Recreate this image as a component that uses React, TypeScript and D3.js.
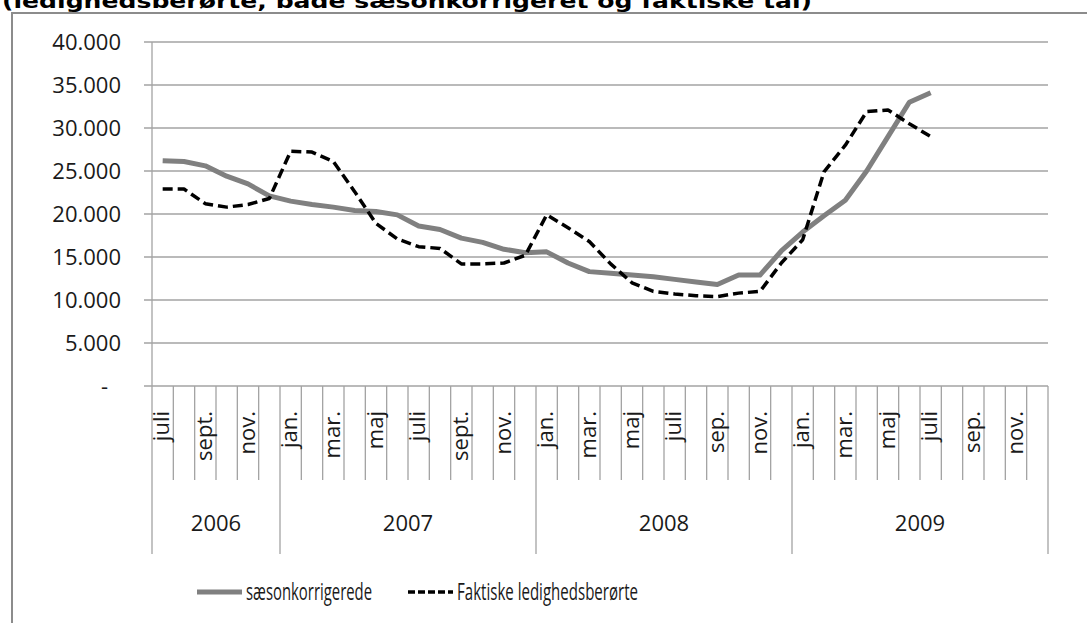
import React from "react";
import * as d3 from "d3";

// months shown on the axis, juli 2006 .. dec. 2009
const months = [
  "juli", "aug.", "sept.", "okt.", "nov.", "dec.",
  "jan.", "feb.", "mar.", "apr.", "maj", "juni", "juli", "aug.", "sept.", "okt.", "nov.", "dec.",
  "jan.", "feb.", "mar.", "apr.", "maj", "juni", "juli", "aug.", "sep.", "okt.", "nov.", "dec.",
  "jan.", "feb.", "mar.", "apr.", "maj", "juni", "juli", "aug.", "sep.", "okt.", "nov.", "dec.",
];
const years = ["2006", "2007", "2008", "2009"];
const monthsPerYear = [6, 12, 12, 12];

// sæsonkorrigerede, juli 2006 .. juli 2009
const saesonkorrigerede = [
  26200, 26100, 25600, 24400, 23500, 22100, 21500, 21100, 20800, 20400,
  20300, 19900, 18600, 18200, 17200, 16700, 15900, 15500, 15600, 14300,
  13300, 13100, 12900, 12700, 12400, 12100, 11800, 12900, 12900, 15700,
  17900, 19800, 21600, 25000, 29000, 33000, 34100,
];

// faktiske ledighedsberørte, juli 2006 .. juli 2009
const faktiske = [
  22900, 22900, 21200, 20800, 21100, 21800, 27300, 27200, 26100, 22600,
  18900, 17100, 16200, 16000, 14200, 14200, 14300, 15200, 19900, 18400,
  16800, 14200, 12000, 11000, 10700, 10500, 10400, 10800, 11000, 14300,
  17000, 24900, 28000, 31900, 32100, 30500, 29000,
];

const yTicks = [0, 5000, 10000, 15000, 20000, 25000, 30000, 35000, 40000];

const seriesNames = ["sæsonkorrigerede", "Faktiske ledighedsberørte"];
const title = "(ledighedsberørte, både sæsonkorrigeret og faktiske tal)";

const W = 1087;
const H = 623;
const left = 152;
const right = 1048;
const top = 42;
const bottom = 386;
const font = "'Open Sans', 'Noto Sans', sans-serif";
const gridColor = "#a3a3a3";

const da = d3.formatLocale({ decimal: ",", thousands: ".", grouping: [3], currency: ["", ""] });
const fmt = da.format(",.0f");

const App = () => {
  const x = d3.scaleBand<number>().domain(d3.range(months.length)).range([left, right]);
  const bw = x.bandwidth();
  const y = d3.scaleLinear().domain([0, 40000]).range([bottom, top]);

  const line = d3.line<number>()
    .x((d, i) => (x(i) as number) + bw / 2)
    .y(d => y(d));

  // year spans
  const starts = monthsPerYear.map((_, i) => d3.sum(monthsPerYear.slice(0, i)));
  const yearEdges = [...starts, months.length];

  return (
    <svg width={W} height={H} style={{ position: "absolute", left: 0, top: 0, background: "#fff" }}>
      <text x={2} y={8} fontFamily="'DejaVu Sans', Verdana, sans-serif" fontWeight="bold" fontSize={19}
        textLength={810} lengthAdjust="spacingAndGlyphs" fill="#000">{title}</text>

      <rect x={12} y={13} width={W + 20} height={H + 20} fill="none" stroke="#8c8c8c" strokeWidth={2} />

      {/* gridlines + y labels */}
      {yTicks.map(t => (
        <g key={t}>
          <line x1={left - 8} x2={right} y1={y(t)} y2={y(t)} stroke={gridColor} strokeWidth={1.3} />
          <text x={t === 0 ? 108 : 121} y={y(t)} dy="0.35em" textAnchor="end" fontFamily={font}
            fontSize={22} fill="#1a1a1a">{t === 0 ? "-" : fmt(t)}</text>
        </g>
      ))}
      <line x1={left} x2={left} y1={top} y2={bottom} stroke={gridColor} strokeWidth={1.3} />

      {/* month ticks */}
      {d3.range(months.length + 1).map(i => {
        const xx = i === months.length ? right : (x(i) as number);
        const isYear = yearEdges.includes(i);
        return <line key={i} x1={xx} x2={xx} y1={bottom} y2={isYear ? 554 : 480}
          stroke={gridColor} strokeWidth={1.3} />;
      })}
      {months.map((m, i) => i % 2 === 0 ? (
        <text key={i} transform={`translate(${(x(i) as number) + bw / 2},411) rotate(-90)`} dy="0.3em"
          textAnchor="end" fontFamily={font} fontSize={22} fill="#1a1a1a">{m}</text>
      ) : null)}
      {years.map((yr, i) => {
        const x0 = x(yearEdges[i]) as number;
        const x1 = yearEdges[i + 1] === months.length ? right : (x(yearEdges[i + 1]) as number);
        return <text key={yr} x={(x0 + x1) / 2} y={531} textAnchor="middle" fontFamily={font}
          fontSize={22} fill="#1a1a1a">{yr}</text>;
      })}

      {/* series */}
      <path d={line(saesonkorrigerede) as string} fill="none" stroke="#808080" strokeWidth={5}
        strokeLinejoin="round" />
      <path d={line(faktiske) as string} fill="none" stroke="#000" strokeWidth={3.5}
        strokeDasharray="10,5" strokeLinejoin="round" />

      {/* legend */}
      <line x1={197} x2={242} y1={592} y2={592} stroke="#808080" strokeWidth={5} />
      <text x={246} y={600} fontFamily={font} fontSize={23} fill="#1a1a1a"
        textLength={126} lengthAdjust="spacingAndGlyphs">{seriesNames[0]}</text>
      <line x1={408} x2={453} y1={592} y2={592} stroke="#000" strokeWidth={3.5} strokeDasharray="7,3" />
      <text x={457} y={600} fontFamily={font} fontSize={23} fill="#1a1a1a"
        textLength={181} lengthAdjust="spacingAndGlyphs">{seriesNames[1]}</text>
    </svg>
  );
};

export default App;
